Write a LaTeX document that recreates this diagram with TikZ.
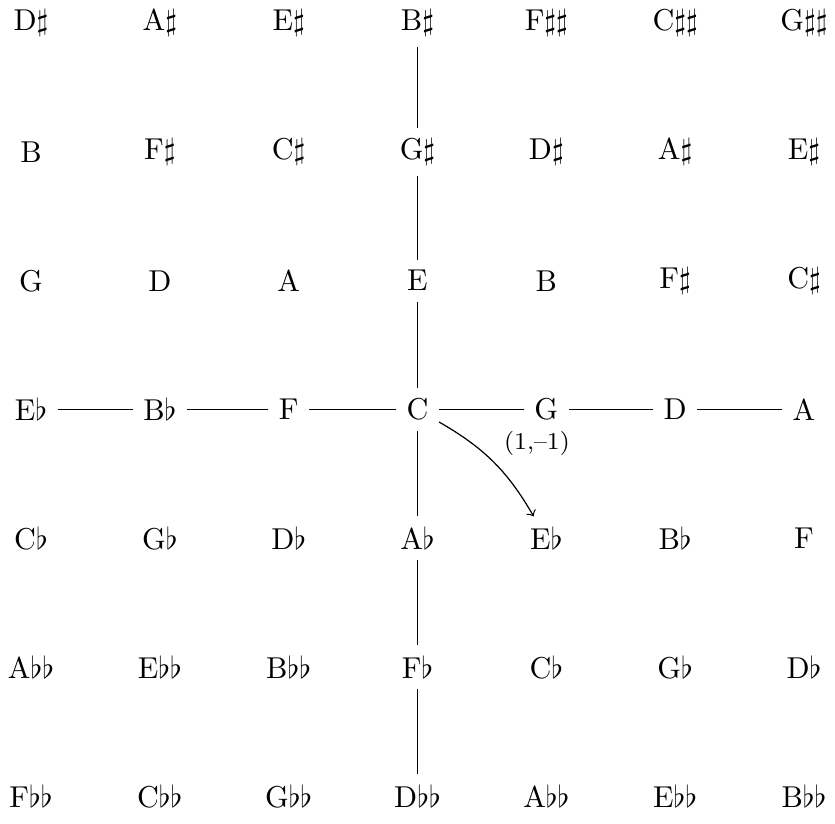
\documentclass[tikz,border=0pt]{standalone}
\newcommand{\mysh}{$\sharp$}
\newcommand{\myfl}{$\flat$}
\tikzset{notenode/.style={inner sep=0.333em}, link/.style={draw, line width=0.4pt},
  steplabel/.style={above right, font=\footnotesize, yshift=-1.5pt}}
\begin{document}
\begin{tikzpicture}
\useasboundingbox (-0.361,0.268) rectangle (9.361,-9.314);
\foreach \row [count=\j from 0] in {
 {D\mysh,A\mysh,E\mysh,B\mysh,F\mysh\mysh,C\mysh\mysh,G\mysh\mysh},
 {B,F\mysh,C\mysh,G\mysh,D\mysh,A\mysh,E\mysh},
 {G,D,A,E,B,F\mysh,C\mysh},
 {E\myfl,B\myfl,F,C,G,D,A},
 {C\myfl,G\myfl,D\myfl,A\myfl,E\myfl,B\myfl,F},
 {A\myfl\myfl,E\myfl\myfl,B\myfl\myfl,F\myfl,C\myfl,G\myfl,D\myfl},
 {F\myfl\myfl,C\myfl\myfl,G\myfl\myfl,D\myfl\myfl,A\myfl\myfl,E\myfl\myfl,B\myfl\myfl}}
 {\foreach \t [count=\i from 0] in \row
   {\node[notenode] (n\i\j) at (1.5*\i,-1.5*\j) {\t};}}
\draw[link] (n03) -- (n13) -- (n23) -- (n33) -- (n43) -- (n53) -- (n63);
\draw[link] (n30) -- (n31) -- (n32) -- (n33) -- (n34) -- (n35) -- (n36);
\draw[->] (n33) to[bend left=15] node[steplabel] {(1,--1)} (n44);
\end{tikzpicture}
\end{document}
